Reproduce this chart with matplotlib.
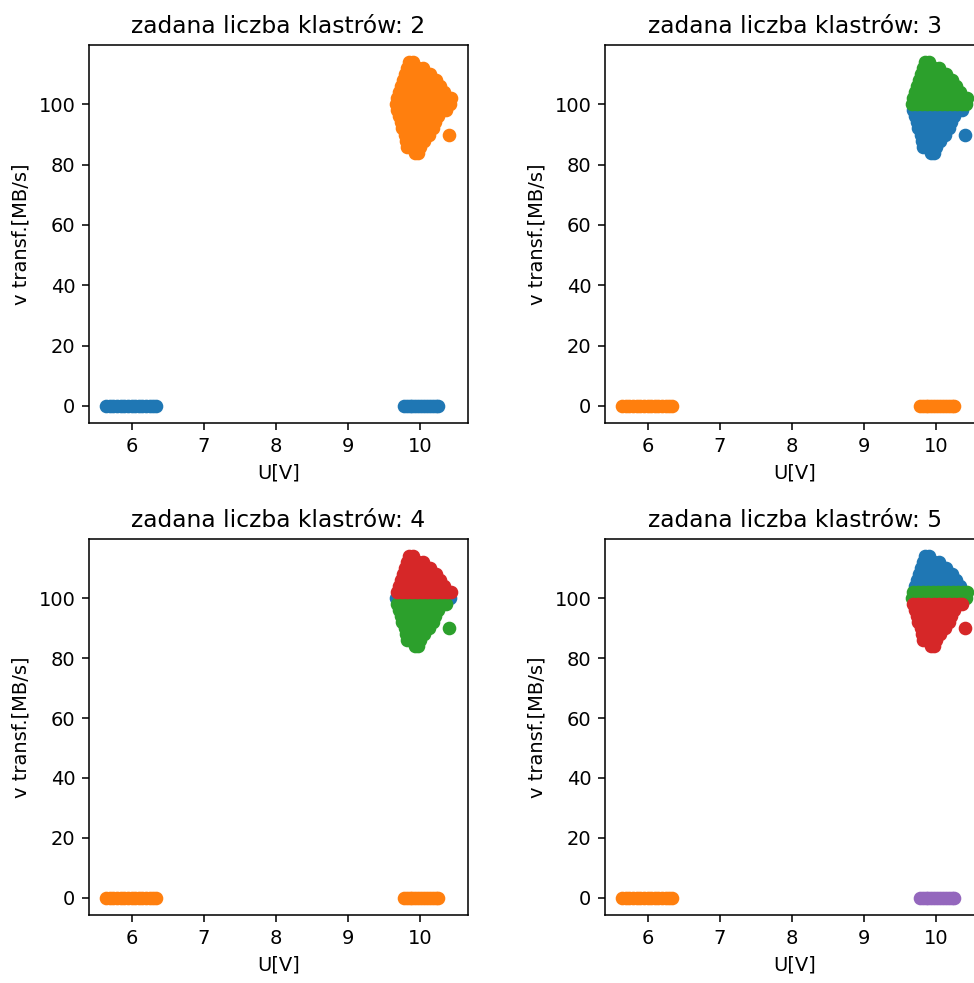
import matplotlib
matplotlib.use("Agg")
import matplotlib.pyplot as plt
import numpy as np

# --- data ---
zero_left_x = [5.65, 5.70, 5.75, 5.80, 5.85, 5.90, 5.95, 6.00, 6.05, 6.10,
               6.15, 6.20, 6.25, 6.30, 6.34]
zero_right_x = [9.77, 9.81, 9.85, 9.89, 9.93, 9.97, 10.01, 10.05, 10.09,
                10.13, 10.17, 10.21, 10.25]

blob_rows_y = [114, 112, 110, 108, 106, 104, 102, 100, 98, 96, 94, 92, 90, 88, 86, 84]
blob_rows_x = [
    [9.84, 9.90],
    [9.82, 9.89, 9.96, 10.03],
    [9.79, 9.86, 9.93, 10.00, 10.07, 10.13],
    [9.76, 9.83, 9.90, 9.97, 10.04, 10.11, 10.18, 10.22],
    [9.73, 9.80, 9.87, 9.94, 10.01, 10.08, 10.15, 10.22, 10.27],
    [9.70, 9.77, 9.84, 9.91, 9.98, 10.05, 10.12, 10.19, 10.26, 10.32],
    [9.67, 9.74, 9.81, 9.88, 9.95, 10.02, 10.09, 10.16, 10.23, 10.30, 10.37, 10.42],
    [9.66, 9.73, 9.80, 9.87, 9.94, 10.01, 10.08, 10.15, 10.22, 10.29, 10.36, 10.41],
    [9.68, 9.75, 9.82, 9.89, 9.96, 10.03, 10.10, 10.17, 10.24, 10.31, 10.35],
    [9.70, 9.77, 9.84, 9.91, 9.98, 10.05, 10.12, 10.19, 10.25],
    [9.73, 9.80, 9.87, 9.94, 10.01, 10.08, 10.15, 10.20],
    [9.75, 9.82, 9.89, 9.96, 10.03, 10.10, 10.17],
    [9.78, 9.85, 9.92, 9.99, 10.06, 10.12, 10.40],
    [9.80, 9.87, 9.94, 10.01, 10.05],
    [9.82, 9.89, 9.96, 10.00],
    [9.92, 9.97],
]

# cluster label of each blob row, and of the two zero groups, per k
cluster_counts = [2, 3, 4, 5]
blob_row_labels = {
    2: [1, 1, 1, 1, 1, 1, 1, 1, 1, 1, 1, 1, 1, 1, 1, 1],
    3: [2, 2, 2, 2, 2, 2, 2, 2, 0, 0, 0, 0, 0, 0, 0, 0],
    4: [3, 3, 3, 3, 3, 3, 3, 0, 2, 2, 2, 2, 2, 2, 2, 2],
    5: [0, 0, 0, 0, 0, 0, 2, 2, 3, 3, 3, 3, 3, 3, 3, 3],
}
zero_left_label = {2: 0, 3: 1, 4: 1, 5: 1}
zero_right_label = {2: 0, 3: 1, 4: 1, 5: 4}

title_text = "zadana liczba klastrów: {}"
xlabel_text = "U[V]"
ylabel_text = "v transf.[MB/s]"

# --- assemble point arrays ---
xs, ys, group = [], [], []
for yv, row in zip(blob_rows_y, blob_rows_x):
    for xv in row:
        xs.append(xv); ys.append(yv)
n_blob = len(xs)
xs += zero_left_x + zero_right_x
ys += [0] * (len(zero_left_x) + len(zero_right_x))
xs = np.array(xs); ys = np.array(ys)

def labels_for(k):
    lab = []
    for yv, row, l in zip(blob_rows_y, blob_rows_x, blob_row_labels[k]):
        lab += [l] * len(row)
    lab += [zero_left_label[k]] * len(zero_left_x)
    lab += [zero_right_label[k]] * len(zero_right_x)
    return np.array(lab)

dpi = 140
fig = plt.figure(figsize=(974 / dpi, 983 / dpi), dpi=dpi)

W = 379 / 974
lefts = [89 / 974, 605 / 974]
rows = [(1 - 423 / 983, 378 / 983), (1 - 915 / 983, 376 / 983)]
positions = [
    [lefts[0], rows[0][0], W, rows[0][1]],
    [lefts[1], rows[0][0], W, rows[0][1]],
    [lefts[0], rows[1][0], W, rows[1][1]],
    [lefts[1], rows[1][0], W, rows[1][1]],
]

for k, pos in zip(cluster_counts, positions):
    ax = fig.add_axes(pos)
    lab = labels_for(k)
    for i in range(k):
        m = lab == i
        ax.scatter(xs[m], ys[m], color=f"C{i}")
    ax.set_title(title_text.format(k))
    ax.set_xlabel(xlabel_text)
    ax.set_ylabel(ylabel_text)
    ax.set_xticks([6, 7, 8, 9, 10])
    ax.set_yticks([0, 20, 40, 60, 80, 100])

fig.savefig("out.png", dpi=dpi)
